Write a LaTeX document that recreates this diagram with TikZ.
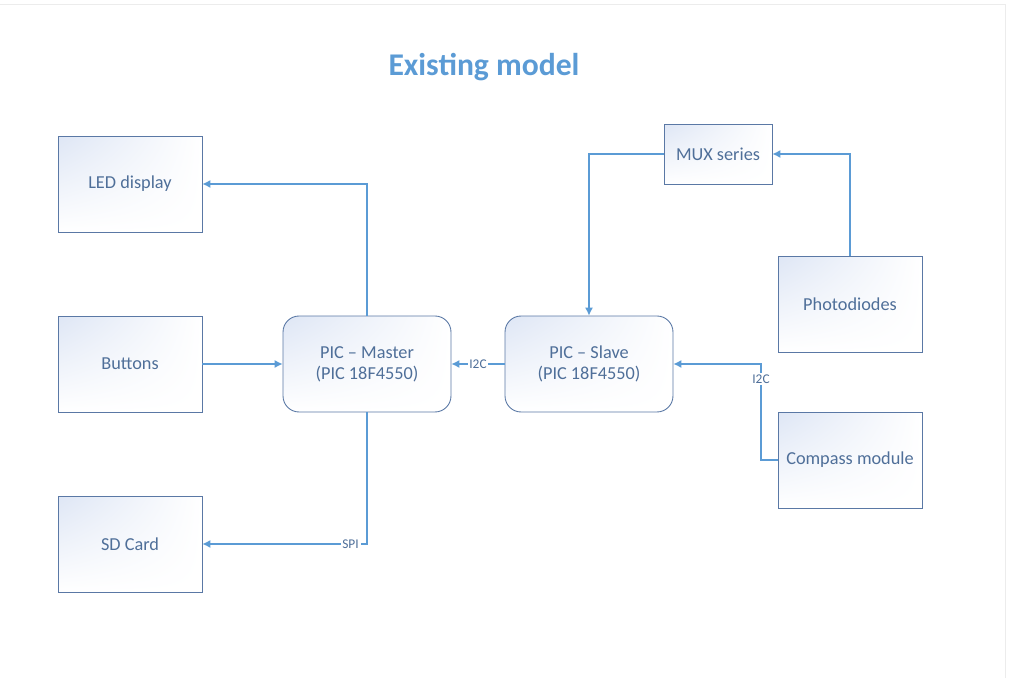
\documentclass[tikz,border=0pt]{standalone}
\usepackage{fontspec}
\setmainfont{Carlito}
\usetikzlibrary{arrows.meta,shadings}
\definecolor{titleblue}{RGB}{91,155,213}
\definecolor{lineblue}{RGB}{91,155,213}
\definecolor{edgeblue}{RGB}{90,120,165}
\definecolor{textblue}{RGB}{79,111,153}
\definecolor{boxfill}{RGB}{222,230,245}
\begin{document}
\begin{tikzpicture}[
	x=0.02cm, y=-0.02cm,
	block/.style={rectangle, draw=edgeblue, line width=0.5pt, text=textblue, font=\fontsize{10.4}{12}\selectfont,
		shade, upper left=boxfill, upper right=white, lower left=white, lower right=white, minimum width=2.88cm, minimum height=1.92cm},
	picbox/.style={block, rounded corners=0.32cm, minimum width=3.36cm, align=center},
	link/.style={draw=lineblue, line width=0.6pt, -{Latex[length=1.6mm,width=1.6mm]}},
	tag/.style={fill=white, text=textblue, inner sep=1pt, font=\fontsize{7.6}{8}\selectfont},
	]
	\useasboundingbox (0,0) rectangle (1011,678);
	\draw[gray!15] (0,4) -- (1005,4) -- (1005,678);
	%Title
	\node[text=titleblue, font=\fontsize{18}{21}\selectfont\bfseries] (title) at (484,67) {Existing model};
	%Nodes
	\node[block] (led) at (130,184) {LED display};
	\node[block] (buttons) at (130,364) {Buttons};
	\node[block] (sd) at (130,544) {SD Card};
	%
	\node[picbox] (master) at (367,364) {PIC -- Master\\(PIC 18F4550)};
	\node[picbox] (slave) at (589,364) {PIC -- Slave\\(PIC 18F4550)};
	%
	\node[block, minimum width=2.16cm, minimum height=1.2cm] (mux) at (718,154) {MUX series};
	\node[block] (photo) at (850,304) {Photodiodes};
	\node[block] (compass) at (850,460) {Compass module};
	%
	\coordinate (bend) at (761,460);
	%Connectors
	\draw[link] (master.north) |- (led.east);
	\draw[link] (buttons.east) -- (master.west);
	\draw[link] (master.south) |- node[tag, pos=0.55] {SPI} (sd.east);
	\draw[link] (slave.west) -- node[tag] {I2C} (master.east);
	\draw[link] (mux.west) -| (slave.north);
	\draw[link] (photo.north) |- (mux.east);
	\draw[link] (compass.west) -- (bend) |- node[tag, pos=0.42] {I2C} (slave.east);
\end{tikzpicture}
\end{document}
